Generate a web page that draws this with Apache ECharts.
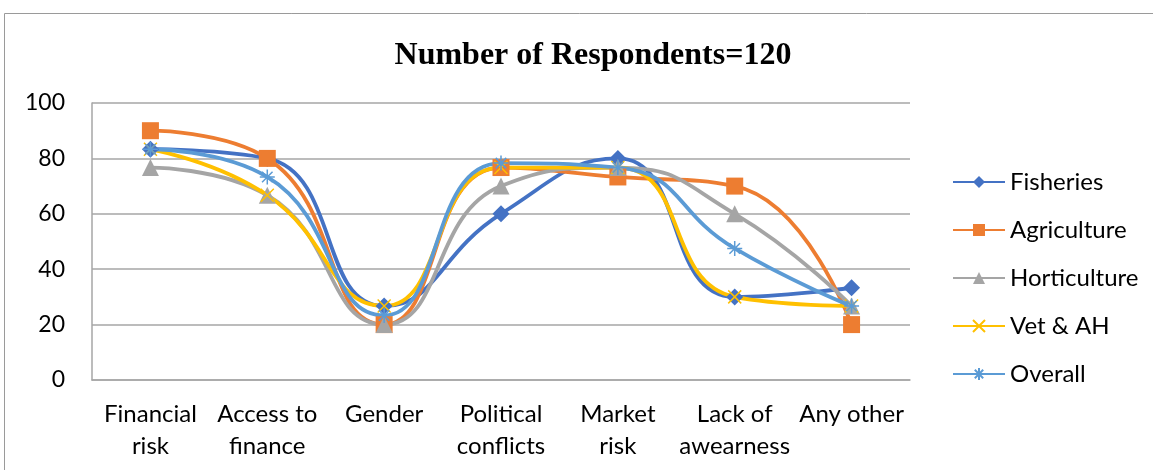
<!DOCTYPE html>
<html><head><meta charset="utf-8">
<script src="https://cdn.jsdelivr.net/npm/echarts@6/dist/echarts.min.js"></script>
<style>html,body{margin:0;padding:0;background:#fff}#c{width:1153px;height:470px}</style>
</head><body><div id="c"></div>
<script>
const categories = ['Financial\nrisk','Access to\nfinance','Gender','Political\nconflicts','Market\nrisk','Lack of\nawearness','Any other'];
const fisheries = [83.3, 80, 26.7, 60, 80, 30, 33.3];
const agriculture = [90, 80, 20, 76.7, 73.3, 70, 20];
const horticulture = [76.7, 66.7, 20, 70, 76.7, 60, 26.7];
const vetAH = [83.3, 66.7, 26.7, 76.7, 76.7, 30, 26.7];
const overall = [83.3, 73.3, 23.3, 78.3, 76.7, 47.5, 26.7];
const yTicks = [0, 20, 40, 60, 80, 100];

const FONT = 'Lato';
const xSym = 'path://M0,0L10,10M10,0L0,10';
const starSym = 'path://M5,0L5,10M0,5L10,5M1.5,1.5L8.5,8.5M8.5,1.5L1.5,8.5';

function mk(name, data, color, symbol, size, strokeOnly) {
  return {
    name, type: 'line', data, smooth: 0.5,
    symbol, symbolSize: size,
    lineStyle: { color, width: 3.8 },
    itemStyle: strokeOnly ? { color: 'rgba(0,0,0,0)', borderColor: color, borderWidth: 1.5 } : { color, borderWidth: 0 },
    emphasis: { disabled: true }
  };
}

const chart = echarts.init(document.getElementById('c'));
chart.setOption({
  animation: false,
  backgroundColor: '#fff',
  graphic: [{ type: 'rect', shape: { x: 4.5, y: 13.5, width: 1160, height: 480 }, style: { fill: 'none', stroke: '#9a9a9a', lineWidth: 1 }, silent: true }],
  title: {
    text: 'Number of Respondents=120', left: 588, top: 35, textAlign: 'center',
    textStyle: { fontFamily: 'Liberation Serif', fontWeight: 'bold', fontSize: 32, color: '#000' }
  },
  legend: {
    orient: 'vertical', left: 947, top: 165, itemGap: 24, itemWidth: 52, itemHeight: 15,
    textStyle: { fontFamily: FONT, fontSize: 24, color: '#000', padding: [0, 0, 0, 0] },
    data: ['Fisheries','Agriculture','Horticulture','Vet & AH','Overall']
  },
  grid: { left: 92, right: 243, top: 103, bottom: 90, containLabel: false },
  xAxis: {
    type: 'category', data: categories, boundaryGap: true,
    axisLine: { show: true, lineStyle: { color: '#a6a6a6', width: 1.5 } },
    axisTick: { show: false },
    axisLabel: { fontFamily: FONT, fontSize: 24, color: '#000', lineHeight: 32, margin: 18, interval: 0 }
  },
  yAxis: {
    type: 'value', min: yTicks[0], max: yTicks[yTicks.length - 1], interval: 20,
    axisLine: { show: true, lineStyle: { color: '#a6a6a6', width: 1.5 } },
    axisTick: { show: false },
    splitLine: { lineStyle: { color: '#a6a6a6', width: 1.5 } },
    axisLabel: { fontFamily: FONT, fontSize: 23, color: '#000', margin: 27 }
  },
  series: [
    mk('Fisheries', fisheries, '#4472C4', 'diamond', 17, false),
    mk('Agriculture', agriculture, '#ED7D31', 'rect', 17, false),
    mk('Horticulture', horticulture, '#A5A5A5', 'triangle', 17, false),
    mk('Vet & AH', vetAH, '#FFC000', xSym, 13, true),
    mk('Overall', overall, '#5B9BD5', starSym, 15, true)
  ]
});
</script></body></html>
